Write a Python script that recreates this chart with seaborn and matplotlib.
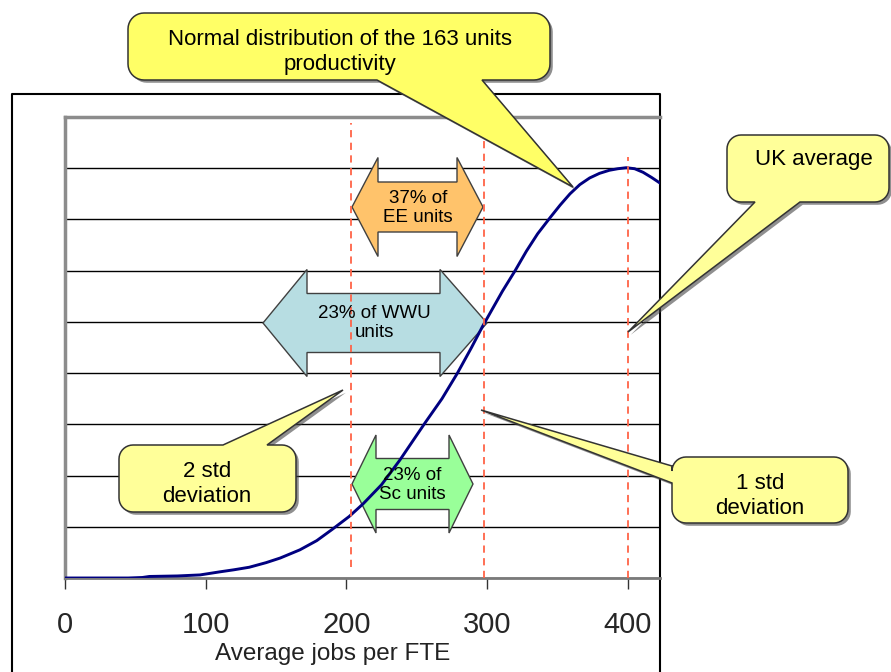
import numpy as np
import pandas as pd
import matplotlib
matplotlib.use("Agg")
import matplotlib.pyplot as plt
import seaborn as sns
from matplotlib.patches import Polygon
from matplotlib.lines import Line2D
from matplotlib.transforms import Affine2D
import matplotlib.patheffects as pe

sns.set_style("white")
plt.rcParams['font.family'] = ['Liberation Sans', 'DejaVu Sans']

# ---------------- data ----------------
jobs_per_fte = [0, 45, 55, 60, 80, 96, 110, 120, 131, 143, 153, 167, 179, 190, 202, 212,
                225, 238, 256, 268, 279, 289, 297, 311, 320, 328, 336, 345, 352, 359,
                366, 373, 380, 387, 393, 399, 405, 411, 417, 423]
density = [0, 0, 0.01, 0.03, 0.04, 0.06, 0.12, 0.16, 0.21, 0.30, 0.39, 0.55, 0.73, 0.95,
           1.2, 1.45, 1.82, 2.30, 3.03, 3.5, 4.0, 4.5, 4.92, 5.6, 6.0, 6.38, 6.72, 7.04,
           7.28, 7.5, 7.68, 7.81, 7.9, 7.96, 7.99, 8.01, 7.99, 7.92, 7.82, 7.71]
ref_lines_x = [203, 298, 400]
ref_lines_top = [8.88, 8.88, 8.22]
ref_lines_bottom = [0.21, 0.0, 0.0]
x_ticks = [0, 100, 200, 300, 400]
x_tick_labels = ["0", "100", "200", "300", "400"]
x_label = "Average jobs per FTE"

# ---------------- figure ----------------
W, H = 891, 672
fig = plt.figure(figsize=(W / 100, H / 100), dpi=100)
ax = fig.add_axes([65 / W, 1 - 578 / H, 595 / W, 461 / H])

df = pd.DataFrame({"x": jobs_per_fte, "y": density})
sns.lineplot(data=df, x="x", y="y", ax=ax, color="#000080", lw=2.1, zorder=3)
for xv, yt, yb in zip(ref_lines_x, ref_lines_top, ref_lines_bottom):
    ax.plot([xv, xv], [yb, yt], color="#FF6347", lw=1.3, ls=(0, (4, 3)), zorder=6)

ax.set_xlim(0, 423)
ax.set_ylim(0, 9)
ax.set_yticks(range(10))
ax.set_yticklabels([])
ax.tick_params(axis='y', length=0, left=False)
ax.grid(axis='y', color='black', lw=1)
ax.grid(axis='x', visible=False)
ax.set_axisbelow(True)
ax.set_xticks(x_ticks)
ax.set_xticklabels(x_tick_labels, fontsize=21)
ax.tick_params(axis='x', direction='out', length=8, width=1, color='#333333',
               pad=16, bottom=True)
ax.set_xlabel(x_label, fontsize=17.5, color='#222222')
ax.xaxis.set_label_coords(0.449, -0.14)
ax.set_ylabel("")
for s in ['left', 'top']:
    ax.spines[s].set_color('#8c8c8c')
    ax.spines[s].set_linewidth(2.5)
ax.spines['bottom'].set_color('#7a7a7a')
ax.spines['bottom'].set_linewidth(2)
ax.spines['right'].set_color('black')
ax.spines['right'].set_linewidth(1.3)

# pixel transform (y downwards)
T = Affine2D().scale(1 / 100, -1 / 100).translate(0, H / 100) + fig.dpi_scale_trans

# outer chart frame
frame = Line2D([12, 12, 660, 660], [H + 10, 94, 94, H + 10], transform=T,
               color='black', lw=1.5, clip_on=False, zorder=1)
ax.add_artist(frame)


def block_arrow(xl, xr, xhl, xhr, yc, hh, sh, color):
    pts = [(xl, yc), (xhl, yc - hh), (xhl, yc - sh), (xhr, yc - sh), (xhr, yc - hh),
           (xr, yc), (xhr, yc + hh), (xhr, yc + sh), (xhl, yc + sh), (xhl, yc + hh)]
    p = Polygon(pts, closed=True, facecolor=color, edgecolor='#404040', lw=1,
                transform=T, clip_on=False, zorder=2)
    ax.add_artist(p)


def arc(cx, cy, r, a0, a1, n=10):
    a = np.radians(np.linspace(a0, a1, n))
    return list(zip(cx + r * np.cos(a), cy + r * np.sin(a)))


def callout(x0, y0, x1, y1, r, side, b1, b2, tip, color):
    pts = []
    pts += arc(x0 + r, y0 + r, r, 180, 270)
    if side == 'top':
        pts += [(b1, y0), tip, (b2, y0)]
    pts += arc(x1 - r, y0 + r, r, 270, 360)
    if side == 'right':
        pts += [(x1, b1), tip, (x1, b2)]
    pts += arc(x1 - r, y1 - r, r, 0, 90)
    if side == 'bottom':
        pts += [(b2, y1), tip, (b1, y1)]
    pts += arc(x0 + r, y1 - r, r, 90, 180)
    if side == 'left':
        pts += [(x0, b2), tip, (x0, b1)]
    p = Polygon(pts, closed=True, facecolor=color, edgecolor='#333333', lw=1.1,
                transform=T, clip_on=False, zorder=7)
    p.set_path_effects([pe.SimplePatchShadow(offset=(2, -2), shadow_rgbFace='#444444',
                                             alpha=0.6), pe.Normal()])
    ax.add_artist(p)


def label(x, y, s, size):
    ax.text(x, y, s, transform=T, ha='center', va='center', fontsize=size,
            color='black', linespacing=1.2, zorder=10, clip_on=False)


# block arrows
block_arrow(352, 483, 378, 457, 207, 49.5, 25, '#FFC36B')
block_arrow(263, 487, 307, 440, 323, 53.5, 29.5, '#B7DDE2')
block_arrow(352, 473, 376, 449, 484, 49, 25.5, '#99FF99')
label(418, 208, "37% of\nEE units", 13.5)
label(374, 323, "23% of WWU\nunits", 13.5)
label(412, 485, "23% of\nSc units", 13.5)

# callouts
callout(128, 13, 550, 80, 16, 'bottom', 377, 482, (573, 187), '#FFFF66')
callout(727, 135, 889, 202, 14, 'bottom', 755, 800, (628, 332), '#FFFF99')
callout(119, 445, 296, 512, 14, 'top', 223, 267, (343, 390), '#FFFF99')
callout(672, 457, 848, 523, 14, 'left', 466, 483, (481, 410), '#FFFF99')
label(340, 52, "Normal distribution of the 163 units\nproductivity", 16)
label(814, 160, "UK average", 16)
label(207, 484, "2 std\ndeviation", 16)
label(760, 496, "1 std\ndeviation", 16)

fig.savefig("out.png", dpi=100)
